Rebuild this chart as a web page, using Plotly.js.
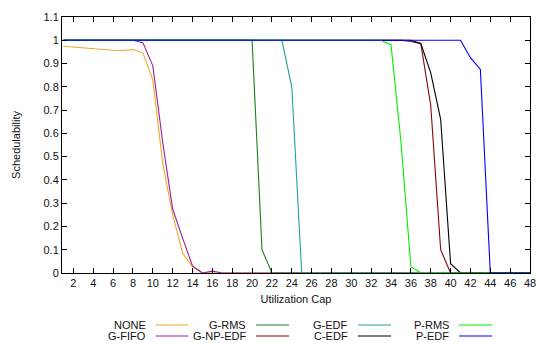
<!DOCTYPE html>
<html>
<head>
<meta charset="utf-8">
<script src="https://cdn.plot.ly/plotly-3.0.1.min.js"></script>
<style>html,body{margin:0;padding:0;background:#fff;}#chart{width:536px;height:343px;}</style>
</head>
<body>
<div id="chart"></div>
<script>
const utilCap = [1,2,3,4,5,6,7,8,9,10,11,12,13,14,15,16,17,18,19,20,21,22,23,24,25,26,27,28,29,30,31,32,33,34,35,36,37,38,39,40,41,42,43,44,45,46,47,48];

const noneVals = [0.974,0.970,0.966,0.962,0.959,0.957,0.956,0.960,0.946,0.830,
  0.470,0.250,0.085,0.025,0,0,0,0,0,0,
  0,0,0,0,0,0,0,0,0,0,
  0,0,0,0,0,0,0,0,0,0,
  0,0,0,0,0,0,0,0];
const gFifoVals = [1,1,1,1,1,1,1,1,0.99,0.89,
  0.56,0.275,0.15,0.03,0,0.008,0,0,0,0,
  0,0,0,0,0,0,0,0,0,0,
  0,0,0,0,0,0,0,0,0,0,
  0,0,0,0,0,0,0,0];
const gRmsVals = [1,1,1,1,1,1,1,1,1,1,
  1,1,1,1,1,1,1,1,1,1,
  0.10,0,0,0,0,0,0,0,0,0,
  0,0,0,0,0,0,0,0,0,0,
  0,0,0,0,0,0,0,0];
const gNpEdfVals = [1,1,1,1,1,1,1,1,1,1,
  1,1,1,1,1,1,1,1,1,1,
  1,1,1,1,1,1,1,1,1,1,
  1,1,1,1,1,0.995,0.985,0.72,0.10,0,
  0,0,0,0,0,0,0,0];
const gEdfVals = [1,1,1,1,1,1,1,1,1,1,
  1,1,1,1,1,1,1,1,1,1,
  1,1,1,0.80,0,0,0,0,0,0,
  0,0,0,0,0,0,0,0,0,0,
  0,0,0,0,0,0,0,0];
const cEdfVals = [1,1,1,1,1,1,1,1,1,1,
  1,1,1,1,1,1,1,1,1,1,
  1,1,1,1,1,1,1,1,1,1,
  1,1,1,1,1,1,0.986,0.86,0.66,0.04,
  0,0,0,0,0,0,0,0];
const pRmsVals = [1,1,1,1,1,1,1,1,1,1,
  1,1,1,1,1,1,1,1,1,1,
  1,1,1,1,1,1,1,1,1,1,
  1,1,1,0.98,0.563,0.027,0,0,0,0,
  0,0,0,0,0,0,0,0];
const pEdfVals = [1,1,1,1,1,1,1,1,1,1,
  1,1,1,1,1,1,1,1,1,1,
  1,1,1,1,1,1,1,1,1,1,
  1,1,1,1,1,1,1,1,1,1,
  1,0.925,0.875,0,0,0,0,0];

const seriesNames = ['NONE','G-FIFO','G-RMS','G-NP-EDF','G-EDF','C-EDF','P-RMS','P-EDF'];
const seriesVals = [noneVals,gFifoVals,gRmsVals,gNpEdfVals,gEdfVals,cEdfVals,pRmsVals,pEdfVals];
const seriesColors = ['#e8ac2c','#a01ca0','#1e7e1e','#8b0000','#22a0a0','#000000','#00ee00','#0000ff'];

const xTickVals = [2,4,6,8,10,12,14,16,18,20,22,24,26,28,30,32,34,36,38,40,42,44,46,48];
const xTickText = ['2','4','6','8','10','12','14','16','18','20','22','24','26','28','30','32','34','36','38','40','42','44','46','48'];

const traces = seriesNames.map((n,i)=>({
  x: utilCap, y: seriesVals[i], name: n, type:'scatter', mode:'lines',
  line:{color:seriesColors[i], width:1.1}, showlegend:false, hoverinfo:'skip'
}));

// custom gnuplot-style legend: text right-aligned, sample line to the right
const W = 468, H = 256, L = 62, T = 17;
const colTextEnd = [147.5, 248, 350, 451];
const rowY = [325, 336];
const annotations = [];
const shapes = [];
seriesNames.forEach((n,i)=>{
  const col = Math.floor(i/2), row = i%2;
  const xe = colTextEnd[col], yy = rowY[row];
  annotations.push({
    text:n, xref:'paper', yref:'paper', x:(xe-L)/W, y:(T+H-yy)/H,
    xanchor:'right', yanchor:'middle', showarrow:false,
    font:{family:'Liberation Sans, Arial, sans-serif', size:11, color:'#111'}
  });
  shapes.push({
    type:'line', xref:'paper', yref:'paper',
    x0:(xe+8-L)/W, x1:(xe+41-L)/W, y0:(T+H-yy)/H, y1:(T+H-yy)/H,
    line:{color:seriesColors[i], width:1.1}
  });
});

const axisCommon = {
  showline:true, linecolor:'#000', linewidth:1, mirror:'ticks',
  ticks:'inside', ticklen:5, tickcolor:'#000', tickwidth:1,
  showgrid:false, zeroline:false, ticklabeloverflow:'allow',
  tickfont:{family:'Liberation Sans, Arial, sans-serif', size:11, color:'#111'}
};

const layout = {
  width:536, height:343,
  margin:{l:62, r:6, t:17, b:70},
  paper_bgcolor:'#fff', plot_bgcolor:'#fff',
  font:{family:'Liberation Sans, Arial, sans-serif', size:11, color:'#111'},
  xaxis: Object.assign({}, axisCommon, {
    range:[0.85,48.0001], tickmode:'array', tickvals:xTickVals, ticktext:xTickText,
    title:{text:'Utilization Cap', font:{size:11}, standoff:7}
  }),
  yaxis: Object.assign({}, axisCommon, {
    range:[0,1.1], tick0:0, dtick:0.1,
    title:{text:'Schedulability', font:{size:11}, standoff:20}
  }),
  annotations: annotations,
  shapes: shapes
};

Plotly.newPlot('chart', traces, layout, {displayModeBar:false, staticPlot:true});
</script>
</body>
</html>
